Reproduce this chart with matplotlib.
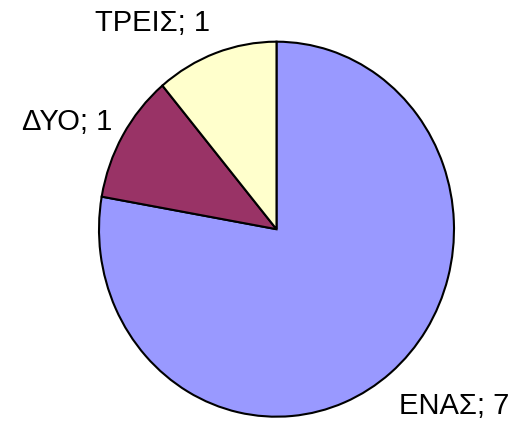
import matplotlib
matplotlib.use("Agg")
import matplotlib.pyplot as plt

categories = ["ΕΝΑΣ", "ΔΥΟ", "ΤΡΕΙΣ"]
values = [7, 1, 1]
colors = ["#9999FF", "#993366", "#FFFFCC"]

W, H = 517, 422
fig = plt.figure(figsize=(W / 100, H / 100), dpi=100)
fig.patch.set_facecolor("white")

# axes box matches the (slightly elliptical) pie in the reference
ax = fig.add_axes([99 / W, (H - 416.7) / H, 355 / W, 375 / H])
labels = [f"{c}; {v}" for c, v in zip(categories, values)]
wedges, texts = ax.pie(values, colors=colors, startangle=90, counterclock=False,
                       labels=labels, radius=1.0,
                       wedgeprops=dict(edgecolor="black", linewidth=1.5),
                       textprops=dict(fontsize=21, family="Liberation Sans", color="black"))
ax.set_aspect("auto")
ax.set_xlim(-1, 1)
ax.set_ylim(-1, 1)
ax.axis("off")

# label placement (Excel-like)
label_pos = [((0.69, -0.945), "left"), ((-0.927, 0.571), "right"), ((-0.70, 1.099), "center")]
for t, ((x, y), ha) in zip(texts, label_pos):
    t.set_position((x, y))
    t.set_ha(ha)
    t.set_va("center")
    t.set_clip_on(False)

fig.savefig("out.png", dpi=100, facecolor="white")
